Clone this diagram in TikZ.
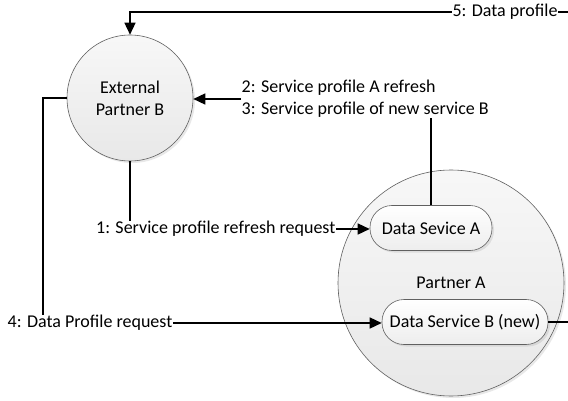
\documentclass[tikz,border=0pt]{standalone}
\usepackage{fontspec}
\setmainfont{Carlito}
\usepackage{tikz}
\usetikzlibrary{arrows.meta}
\usetikzlibrary{shadows}

\begin{document}
\begin{tikzpicture}[x=1pt,y=-1pt,
  font=\fontsize{18}{22}\selectfont,
  party/.style={circle, draw=gray!75!black, line width=0.6pt, inner sep=0pt,
    top color=gray!6, bottom color=gray!18, align=center,
    drop shadow={opacity=0.18, shadow xshift=2pt, shadow yshift=-2pt}},
  service/.style={rectangle, rounded corners=22pt, draw=gray!75!black,
    line width=0.6pt, minimum height=45pt, top color=white, bottom color=gray!14,
    drop shadow={opacity=0.18, shadow xshift=2pt, shadow yshift=-2pt}},
  msg/.style={inner sep=0.5pt, align=left},
  link/.style={line width=1.5pt},
  flow/.style={link, -{Triangle[length=12pt,width=11pt]}}]

  \useasboundingbox (0,0) rectangle (568,401);

  % the two partners
  \node[party, minimum size=126pt] (extB) at (130,98) {External\\Partner B};
  \node[party, minimum size=226pt] (partA) at (451,283) {Partner A};

  % services inside partner A
  \node[service, minimum width=122pt] (dsA) at (431,228) {Data Sevice A};
  \node[service, minimum width=166pt] (dsB) at (465,322) {Data Service B (new)};

  % message labels
  \node[msg, anchor=east] (req1) at (336,229) {1: Service profile refresh request};
  \node[msg, anchor=west] (refr) at (241,99) {2: Service profile A refresh\\3: Service profile of new service B};
  \node[msg, anchor=west] (req4) at (7,323) {4: Data Profile request};
  \node[msg] (prof5) at (505,12) {5: Data profile};

  \coordinate (turn4) at (43,98);
  \coordinate (edge5) at (569,12);

  % 1: refresh request
  \draw[link] (extB.south) -- (extB.south |- req1.north);
  \draw[flow] (req1.east) -- (req1.east -| dsA.west);

  % 2,3: profiles back to partner B
  \draw[link] (dsA.north) -- (dsA.north |- refr.south);
  \draw[flow] (refr.west) -- (refr.west -| extB.east);

  % 4: data profile request
  \draw[link] (extB.west) -- (turn4) -- (turn4 |- req4.north);
  \draw[flow] (req4.east) -- (req4.east -| dsB.west);

  % 5: data profile
  \draw[link] (dsB.east) -- (dsB.east -| edge5) -- (edge5) -- (prof5.east);
  \draw[flow] (prof5.west) -| (extB.north);

\end{tikzpicture}
\end{document}
